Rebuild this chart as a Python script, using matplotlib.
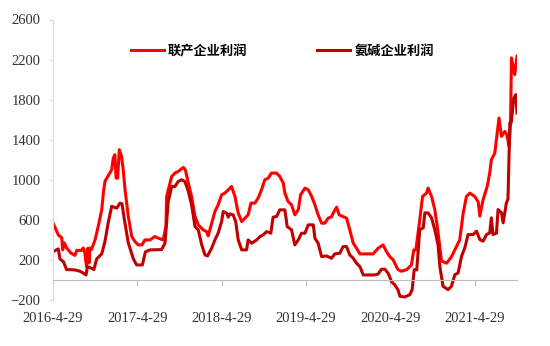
import matplotlib
matplotlib.use("Agg")
import matplotlib.pyplot as plt
import pandas as pd

# 联产企业利润 (bright red)
lianchan_dates = [
    "2016-04-29", "2016-05-22", "2016-06-06", "2016-06-10", "2016-06-17", "2016-06-27",
    "2016-07-15", "2016-08-02", "2016-08-10", "2016-08-31", "2016-09-07", "2016-09-14",
    "2016-09-21", "2016-09-27", "2016-10-02", "2016-10-06", "2016-10-13", "2016-10-28",
    "2016-11-11", "2016-11-26", "2016-12-03", "2016-12-10", "2016-12-24", "2017-01-08",
    "2017-01-15", "2017-01-22", "2017-01-27", "2017-02-03", "2017-02-10", "2017-02-20",
    "2017-02-27", "2017-03-07", "2017-03-21", "2017-04-05", "2017-04-19", "2017-05-03",
    "2017-05-19", "2017-06-01", "2017-06-23", "2017-07-14", "2017-07-29", "2017-08-19",
    "2017-08-31", "2017-09-03", "2017-09-10", "2017-09-25", "2017-10-09", "2017-10-23",
    "2017-11-14", "2017-11-23", "2017-12-06", "2017-12-20", "2018-01-04", "2018-01-18",
    "2018-02-08", "2018-02-23", "2018-03-02", "2018-03-17", "2018-03-31", "2018-04-14",
    "2018-04-29", "2018-05-13", "2018-05-28", "2018-06-11", "2018-06-26", "2018-07-10",
    "2018-07-25", "2018-08-08", "2018-08-22", "2018-09-03", "2018-09-20", "2018-10-04",
    "2018-10-19", "2018-11-02", "2018-11-17", "2018-12-01", "2018-12-23", "2019-01-06",
    "2019-01-21", "2019-01-28", "2019-02-11", "2019-02-26", "2019-03-12", "2019-03-27",
    "2019-04-06", "2019-04-25", "2019-05-09", "2019-05-24", "2019-06-07", "2019-06-21",
    "2019-07-06", "2019-07-20", "2019-08-03", "2019-08-18", "2019-08-25", "2019-09-09",
    "2019-09-20", "2019-10-07", "2019-10-22", "2019-11-05", "2019-11-20", "2019-12-04",
    "2019-12-19", "2020-02-14", "2020-03-07", "2020-03-28", "2020-04-12", "2020-04-26",
    "2020-05-11", "2020-05-25", "2020-06-01", "2020-06-16", "2020-07-08", "2020-07-29",
    "2020-08-08", "2020-08-17", "2020-09-03", "2020-09-15", "2020-10-02", "2020-10-09",
    "2020-10-24", "2020-11-07", "2020-11-21", "2020-12-06", "2020-12-28", "2021-01-18",
    "2021-02-09", "2021-02-23", "2021-03-10", "2021-03-24", "2021-04-08", "2021-04-29",
    "2021-05-14", "2021-05-21", "2021-06-04", "2021-06-22", "2021-07-03", "2021-07-10",
    "2021-07-25", "2021-08-12", "2021-08-23", "2021-09-06", "2021-09-15", "2021-09-25",
    "2021-10-01", "2021-10-05", "2021-10-19", "2021-10-29",
]
lianchan_profit = [
    570, 450, 420, 300, 370, 320,
    270, 245, 295, 295, 320, 270,
    135, 317, 170, 320, 305, 400,
    537, 700, 870, 985, 1040, 1100,
    1217, 1250, 1017, 1017, 1300, 1233,
    1100, 900, 633, 433, 383, 350,
    350, 400, 400, 433, 417, 400,
    533, 833, 900, 1033, 1067, 1083,
    1123, 1100, 967, 833, 633, 550,
    500, 483, 440, 567, 683, 750,
    850, 867, 900, 933, 833, 667,
    583, 617, 650, 767, 767, 817,
    900, 1000, 1017, 1067, 1067, 1033,
    967, 867, 783, 750, 650, 700,
    850, 917, 900, 833, 750, 650,
    567, 567, 617, 630, 667, 727,
    650, 633, 617, 500, 367, 317,
    260, 260, 317, 350, 283, 233,
    200, 133, 103, 87, 103, 150,
    300, 300, 600, 833, 867, 917,
    833, 703, 480, 190, 167, 230,
    333, 400, 667, 833, 867, 833,
    780, 637, 800, 933, 1070, 1200,
    1267, 1617, 1433, 1483, 1450, 1333,
    1567, 2217, 2050, 2233,
]

# 氨碱企业利润 (dark red)
anjian_dates = [
    "2016-04-29", "2016-05-22", "2016-05-29", "2016-06-13", "2016-06-27", "2016-07-12",
    "2016-08-02", "2016-08-24", "2016-09-06", "2016-09-19", "2016-09-25", "2016-10-10",
    "2016-10-23", "2016-11-04", "2016-11-26", "2016-12-10", "2016-12-24", "2017-01-08",
    "2017-01-30", "2017-02-13", "2017-02-22", "2017-03-04", "2017-03-21", "2017-04-12",
    "2017-04-26", "2017-05-21", "2017-06-03", "2017-06-23", "2017-08-12", "2017-08-27",
    "2017-09-04", "2017-09-10", "2017-09-25", "2017-10-09", "2017-10-23", "2017-11-07",
    "2017-11-21", "2017-12-06", "2017-12-20", "2018-01-04", "2018-01-18", "2018-02-02",
    "2018-02-16", "2018-02-27", "2018-03-17", "2018-03-31", "2018-04-14", "2018-04-29",
    "2018-05-06", "2018-05-21", "2018-05-28", "2018-06-04", "2018-06-18", "2018-06-29",
    "2018-07-10", "2018-07-25", "2018-08-15", "2018-08-22", "2018-09-06", "2018-09-28",
    "2018-10-12", "2018-10-26", "2018-11-10", "2018-11-28", "2018-12-08", "2018-12-23",
    "2019-01-06", "2019-01-28", "2019-02-07", "2019-02-26", "2019-03-12", "2019-03-27",
    "2019-04-10", "2019-04-25", "2019-05-09", "2019-05-31", "2019-06-07", "2019-06-21",
    "2019-07-06", "2019-07-27", "2019-08-18", "2019-09-01", "2019-09-23", "2019-10-07",
    "2019-10-22", "2019-11-05", "2019-11-20", "2019-12-04", "2019-12-19", "2020-01-02",
    "2020-02-21", "2020-03-07", "2020-03-21", "2020-04-05", "2020-04-19", "2020-05-04",
    "2020-05-18", "2020-06-01", "2020-06-09", "2020-06-30", "2020-07-22", "2020-08-01",
    "2020-08-10", "2020-08-21", "2020-09-03", "2020-09-18", "2020-09-25", "2020-10-09",
    "2020-10-24", "2020-11-07", "2020-11-21", "2020-11-29", "2020-12-06", "2020-12-13",
    "2021-01-04", "2021-01-18", "2021-02-02", "2021-02-16", "2021-03-03", "2021-03-17",
    "2021-03-31", "2021-04-22", "2021-05-07", "2021-05-21", "2021-06-04", "2021-06-19",
    "2021-07-03", "2021-07-10", "2021-07-17", "2021-08-01", "2021-08-08", "2021-08-23",
    "2021-08-30", "2021-09-13", "2021-09-20", "2021-09-28", "2021-10-04", "2021-10-15",
    "2021-10-24", "2021-10-29",
]
anjian_profit = [
    283, 310, 210, 183, 103, 103,
    100, 87, 70, 50, 133, 120,
    103, 210, 260, 385, 570, 735,
    717, 767, 760, 603, 370, 210,
    150, 150, 280, 300, 303, 367,
    600, 783, 933, 933, 983, 1000,
    983, 883, 750, 533, 500, 350,
    250, 240, 317, 400, 467, 583,
    683, 667, 627, 660, 650, 583,
    400, 300, 300, 400, 367, 400,
    433, 450, 483, 467, 627, 633,
    700, 700, 533, 500, 350, 400,
    467, 467, 550, 550, 417, 367,
    233, 240, 217, 260, 267, 333,
    333, 250, 217, 167, 133, 50,
    50, 60, 107, 107, 67, -17,
    -50, -100, -163, -170, -147, -97,
    103, 100, 503, 520, 670, 670,
    620, 503, 353, 137, 33, -63,
    -97, -63, 53, 70, 237, 320,
    453, 453, 487, 403, 387, 453,
    470, 620, 453, 467, 703, 670,
    570, 767, 810, 1567, 1570, 1817,
    1850, 1667,
]

series_names = ["联产企业利润", "氨碱企业利润"]
series_colors = ["#FF0000", "#C00000"]
tick_dates = ["2016-04-29", "2017-04-29", "2018-04-29", "2019-04-29", "2020-04-29", "2021-04-29"]
tick_labels = ["2016-4-29", "2017-4-29", "2018-4-29", "2019-4-29", "2020-4-29", "2021-4-29"]
y_ticks = list(range(-200, 2601, 400))

fig = plt.figure(figsize=(5.5, 3.46), dpi=100)
ax = fig.add_axes([53 / 550, 1 - 300 / 346, (517 - 53) / 550, (300 - 19.5) / 346])

l1, = ax.plot(pd.to_datetime(lianchan_dates), lianchan_profit, color=series_colors[0], lw=2.2,
              solid_joinstyle="round")
l2, = ax.plot(pd.to_datetime(anjian_dates), anjian_profit, color=series_colors[1], lw=2.2,
              solid_joinstyle="round")

ax.set_xlim(pd.Timestamp("2016-04-29"), pd.Timestamp("2021-10-29"))
ax.set_ylim(-200, 2600)

# axes styling: x axis crosses at zero, labels stay at the bottom
for side in ["top", "right"]:
    ax.spines[side].set_visible(False)
ax.spines["bottom"].set_position(("data", 0))
ax.spines["bottom"].set_color("#BFBFBF")
ax.spines["left"].set_color("#D9D9D9")

ax.set_xticks(pd.to_datetime(tick_dates))
ax.set_xticklabels(tick_labels)
ax.set_yticks(y_ticks)

tick_font = {"family": "Liberation Serif", "size": 10.5}
for lab in ax.get_xticklabels() + ax.get_yticklabels():
    lab.set_fontfamily(tick_font["family"])
    lab.set_fontsize(tick_font["size"])
    lab.set_color("#333333")

ax.tick_params(axis="x", direction="out", length=4, color="#BFBFBF", pad=19)
ax.tick_params(axis="y", direction="out", length=3, color="#D9D9D9", pad=6)

leg = fig.legend([l1, l2], series_names, loc="center left",
                 bbox_to_anchor=(131 / 550, 1 - 51 / 346), bbox_transform=fig.transFigure,
                 ncol=2, frameon=False, borderpad=0, borderaxespad=0,
                 handlelength=2.5, handletextpad=0.3, columnspacing=5.3,
                 prop={"family": ["Noto Sans CJK SC", "DejaVu Sans"], "weight": "bold", "size": 9.5})

fig.savefig("out.png", dpi=100)
